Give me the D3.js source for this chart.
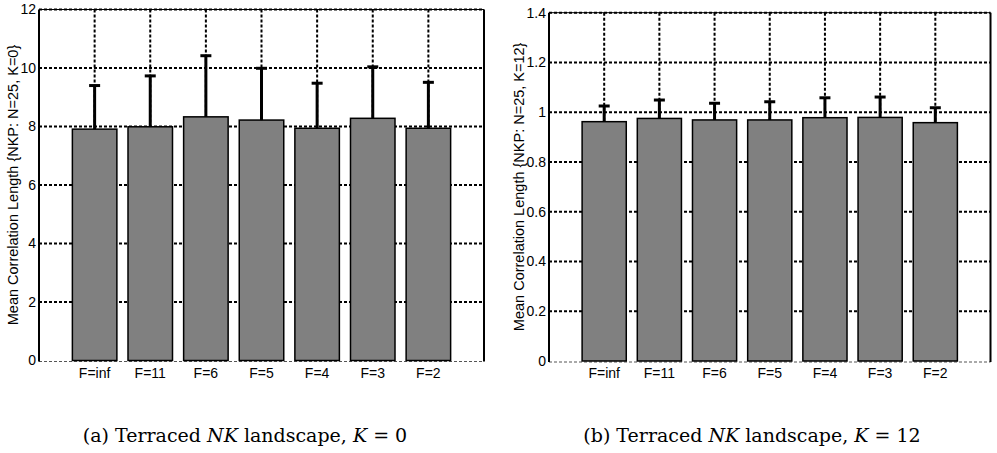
<!DOCTYPE html>
<html>
<head>
<meta charset="utf-8">
<script src="https://cdn.jsdelivr.net/npm/d3@7"></script>
<style>
  body { margin: 0; background: #fff; }
  svg { display: block; }
</style>
</head>
<body>
<svg width="997" height="453"></svg>
<script>
var svg = d3.select('svg')

var cats = ['F=inf', 'F=11', 'F=6', 'F=5', 'F=4', 'F=3', 'F=2']

// panel (a) K=0
var meanK0 = [7.91, 7.99, 8.33, 8.22, 7.94, 8.28, 7.94]
var errK0 = [1.49, 1.74, 2.09, 1.77, 1.54, 1.76, 1.57]
var ticksK0 = [0, 2, 4, 6, 8, 10, 12]

// panel (b) K=12
var meanK12 = [0.962, 0.975, 0.969, 0.969, 0.978, 0.979, 0.958]
var errK12 = [0.063, 0.074, 0.067, 0.073, 0.080, 0.082, 0.060]
var ticksK12 = [0, 0.2, 0.4, 0.6, 0.8, 1, 1.2, 1.4]

var panels = [
  { means: meanK0, errs: errK0, ticks: ticksK0, ymax: 12, left: 39, right: 484, top: 9.5, bottom: 360.5,
    ylabel: 'Mean Correlation Length {NKP: N=25, K=0}', labelX: 13, tag: '(a)', kval: '0', capX: 245 },
  { means: meanK12, errs: errK12, ticks: ticksK12, ymax: 1.4, left: 549, right: 990.5, top: 12.7, bottom: 361,
    ylabel: 'Mean Correlation Length {NKP: N=25, K=12}', labelX: 519, tag: '(b)', kval: '12', capX: 752 }
]

var sans = 'Liberation Sans, Arial, Helvetica, sans-serif'

function drawPanel (p) {
  var g = svg.append('g')

  var x = d3.scaleLinear()
    .domain([0, cats.length + 1])
    .range([p.left, p.right])

  var y = d3.scaleLinear()
    .domain([0, p.ymax])
    .range([p.bottom, p.top])

  var bw = x(0.8) - x(0)

  // horizontal grid
  g.selectAll('.hgrid')
    .data(p.ticks.filter((t) => t > 0))
    .enter().append('line')
    .attr('x1', p.left).attr('x2', p.right)
    .attr('y1', (d) => y(d)).attr('y2', (d) => y(d))
    .style('stroke', '#000')
    .style('stroke-width', 2)
    .style('stroke-dasharray', '3,2')

  // vertical grid at bar centres
  g.selectAll('.vgrid')
    .data(cats)
    .enter().append('line')
    .attr('x1', (d, i) => x(i + 1)).attr('x2', (d, i) => x(i + 1))
    .attr('y1', p.top).attr('y2', p.bottom)
    .style('stroke', '#000')
    .style('stroke-width', 2)
    .style('stroke-dasharray', '3,2')

  // zero line (thin, dotted)
  g.append('line')
    .attr('x1', p.left).attr('x2', p.right)
    .attr('y1', y(0) + 1).attr('y2', y(0) + 1)
    .style('stroke', '#555')
    .style('stroke-width', 1)
    .style('stroke-dasharray', '3,2')

  // bars
  g.selectAll('.bar')
    .data(p.means)
    .enter().append('rect')
    .attr('x', (d, i) => x(i + 1) - bw / 2)
    .attr('width', bw)
    .attr('y', (d) => y(d))
    .attr('height', (d) => y(0) - y(d))
    .style('fill', '#808080')
    .style('stroke', '#000')
    .style('stroke-width', 1.5)

  // error bars (upper half visible)
  var eb = g.selectAll('.err')
    .data(p.means)
    .enter().append('g')

  eb.append('line')
    .attr('x1', (d, i) => x(i + 1)).attr('x2', (d, i) => x(i + 1))
    .attr('y1', (d) => y(d)).attr('y2', (d, i) => y(d + p.errs[i]))
    .style('stroke', '#000')
    .style('stroke-width', 3)

  eb.append('line')
    .attr('x1', (d, i) => x(i + 1) - 5.5).attr('x2', (d, i) => x(i + 1) + 5.5)
    .attr('y1', (d, i) => y(d + p.errs[i])).attr('y2', (d, i) => y(d + p.errs[i]))
    .style('stroke', '#000')
    .style('stroke-width', 3)

  // frame: left axis, top and right border
  g.append('line')
    .attr('x1', p.left).attr('x2', p.left)
    .attr('y1', p.top).attr('y2', p.bottom + 1)
    .style('stroke', '#000').style('stroke-width', 2)
  g.append('line')
    .attr('x1', p.left).attr('x2', p.right)
    .attr('y1', p.top).attr('y2', p.top)
    .style('stroke', '#000').style('stroke-width', 1)
  g.append('line')
    .attr('x1', p.right).attr('x2', p.right)
    .attr('y1', p.top).attr('y2', p.bottom + 1)
    .style('stroke', '#000').style('stroke-width', 2)

  // y tick labels
  g.selectAll('.ytl')
    .data(p.ticks)
    .enter().append('text')
    .attr('x', p.left - 3)
    .attr('y', (d) => y(d))
    .attr('dy', '0.35em')
    .attr('text-anchor', 'end')
    .style('font-family', sans)
    .style('font-size', '14px')
    .text((d) => d3.format('~g')(d))

  // x tick labels
  g.selectAll('.xtl')
    .data(cats)
    .enter().append('text')
    .attr('x', (d, i) => x(i + 1))
    .attr('y', p.bottom + 17)
    .attr('text-anchor', 'middle')
    .style('font-family', sans)
    .style('font-size', '14px')
    .text((d) => d)

  // y axis label
  g.append('text')
    .attr('transform', 'translate(' + p.labelX + ',' + ((p.top + p.bottom) / 2) + ') rotate(-90)')
    .attr('dy', '0.35em')
    .attr('text-anchor', 'middle')
    .style('font-family', sans)
    .style('font-size', '14.5px')
    .text(p.ylabel)

  // caption
  var cap = svg.append('text')
    .attr('x', p.capX)
    .attr('y', 442)
    .attr('text-anchor', 'middle')
    .style('font-family', 'DejaVu Serif, serif')
    .style('font-size', '19px')
  cap.append('tspan').text(p.tag + ' Terraced ')
  cap.append('tspan').style('font-style', 'italic').text('NK')
  cap.append('tspan').text(' landscape, ')
  cap.append('tspan').style('font-style', 'italic').text('K')
  cap.append('tspan').text(' = ' + p.kval)
}

panels.forEach((p) => drawPanel(p))
</script>
</body>
</html>
